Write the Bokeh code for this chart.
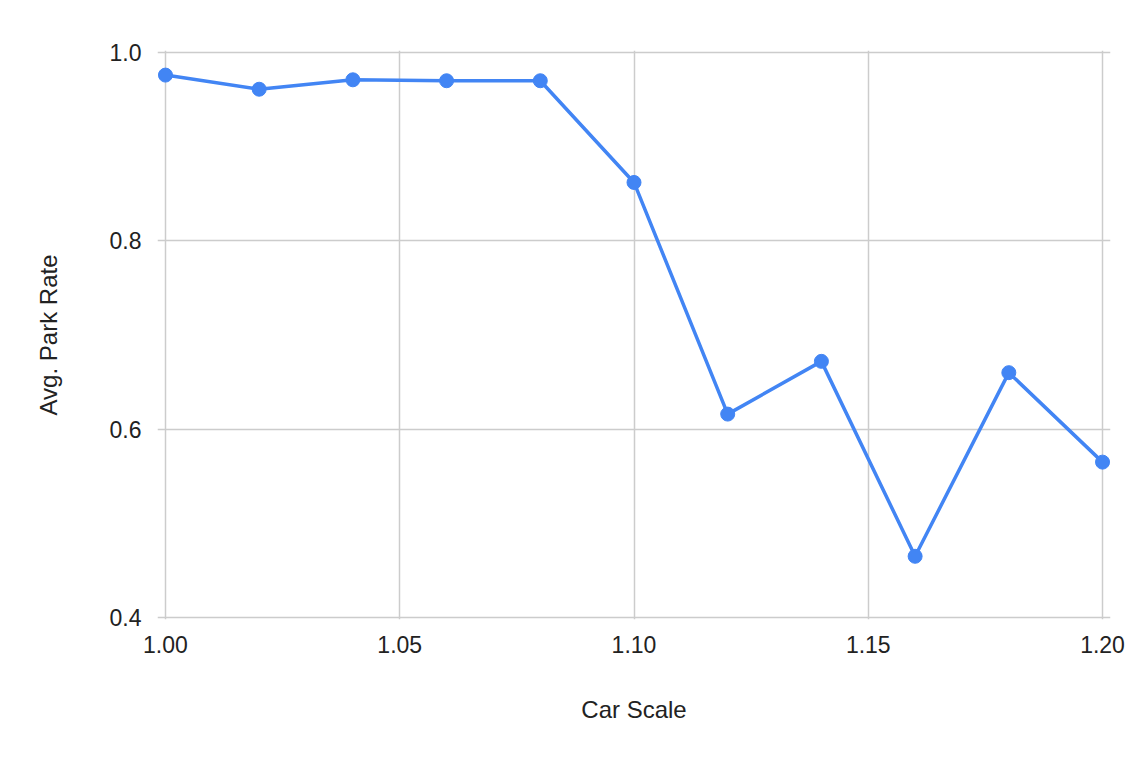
from bokeh.plotting import figure
from bokeh.models import FixedTicker, NumeralTickFormatter, Range1d, ColumnDataSource
from bokeh.embed import file_html
from bokeh.resources import INLINE

car_scale = [1.00, 1.02, 1.04, 1.06, 1.08, 1.10, 1.12, 1.14, 1.16, 1.18, 1.20]
park_rate = [0.976, 0.961, 0.971, 0.970, 0.970, 0.862, 0.616, 0.672, 0.465, 0.660, 0.565]
x_ticks = [1.00, 1.05, 1.10, 1.15, 1.20]
y_ticks = [0.4, 0.6, 0.8, 1.0]

src = ColumnDataSource(dict(x=car_scale, y=park_rate))

p = figure(width=1132, height=744, output_backend="svg", toolbar_location=None,
           x_range=Range1d(0.9983, 1.2017), y_range=Range1d(0.39788, 1.00212),
           min_border_left=157, min_border_right=22, min_border_top=50, min_border_bottom=125)
p.outline_line_color = None
p.background_fill_color = "white"
p.border_fill_color = "white"

blue = "#4285F4"
p.line("x", "y", source=src, line_color=blue, line_width=3.5)
p.scatter("x", "y", source=src, size=14, fill_color=blue, line_color=blue)

font = "Liberation Sans"
for ax in (p.xaxis[0], p.yaxis[0]):
    ax.axis_line_color = None
    ax.major_tick_line_color = None
    ax.minor_tick_line_color = None
    ax.major_label_text_font = font
    ax.major_label_text_font_size = "23px"
    ax.major_label_text_color = "#222222"
    ax.axis_label_text_font = font
    ax.axis_label_text_font_size = "24px"
    ax.axis_label_text_font_style = "normal"
    ax.axis_label_text_color = "#222222"

p.xaxis.ticker = FixedTicker(ticks=x_ticks)
p.yaxis.ticker = FixedTicker(ticks=y_ticks)
p.xaxis.formatter = NumeralTickFormatter(format="0.00")
p.yaxis.formatter = NumeralTickFormatter(format="0.0")
p.xaxis.axis_label = "Car Scale"
p.yaxis.axis_label = "Avg. Park Rate"
p.xaxis.major_label_standoff = 10
p.xaxis.axis_label_standoff = 40
p.yaxis.major_label_standoff = 10
p.yaxis.axis_label_standoff = 45

p.grid.grid_line_color = "#cccccc"
p.grid.grid_line_width = 1.5

open("out.html", "w").write(file_html(p, INLINE))
